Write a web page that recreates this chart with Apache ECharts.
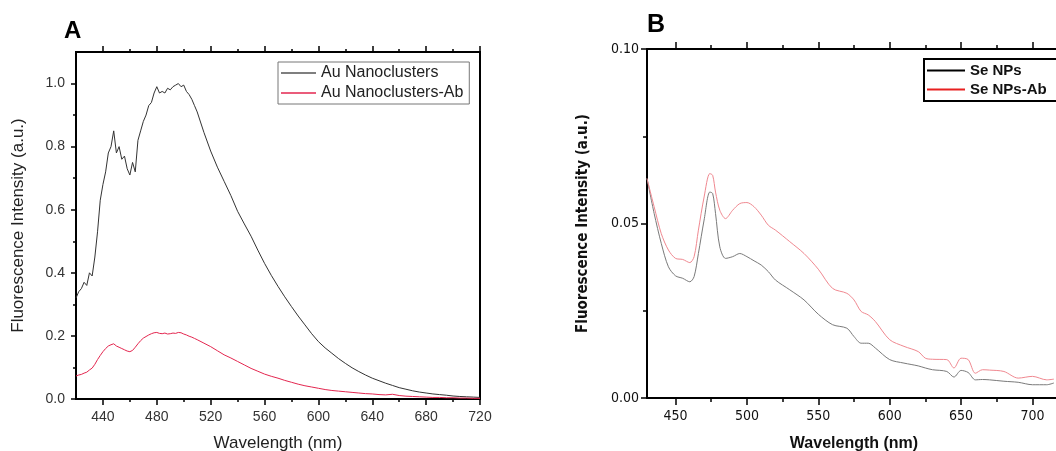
<!DOCTYPE html>
<html><head><meta charset="utf-8">
<script src="https://cdn.jsdelivr.net/npm/echarts@6/dist/echarts.min.js"></script>
<style>html,body{margin:0;padding:0;background:#fff}#c{width:1056px;height:451px}</style>
</head><body><div id="c"></div>
<script>
// ---- Panel A data (Au nanoclusters) ----
const auWavelength = [420,422,424,426,428,430,432,434,436,438,440,442,444,446,448,450,452,454,456,458,460,462,464,466,468,470,472,474,476,478,480,482,484,486,488,490,492,494,496,498,500,502,504,506,508,510,
515,520,525,530,535,540,545,550,555,560,565,570,575,580,585,590,595,600,605,610,615,620,625,630,635,640,645,650,655,660,665,670,675,680,685,690,695,700,705,710,715,720];
const auNanoclusters = [0.32,0.34,0.35,0.37,0.36,0.40,0.39,0.45,0.53,0.63,0.68,0.72,0.78,0.80,0.85,0.78,0.80,0.76,0.77,0.73,0.71,0.75,0.72,0.82,0.85,0.88,0.90,0.93,0.94,0.97,0.99,0.97,0.975,0.97,0.985,0.98,0.99,0.995,1.0,0.99,0.995,0.975,0.965,0.95,0.93,0.91,
0.845,0.786,0.735,0.69,0.645,0.595,0.555,0.516,0.472,0.43,0.392,0.357,0.324,0.293,0.263,0.235,0.207,0.182,0.162,0.145,0.128,0.113,0.099,0.087,0.076,0.066,0.058,0.05,0.043,0.036,0.031,0.026,0.022,0.019,0.016,0.014,0.012,0.0095,0.008,0.007,0.006,0.005];
const auNanoclustersAb = [0.073,0.076,0.078,0.082,0.085,0.092,0.098,0.110,0.125,0.138,0.150,0.160,0.168,0.172,0.175,0.168,0.164,0.160,0.156,0.152,0.150,0.154,0.164,0.175,0.185,0.193,0.198,0.203,0.207,0.210,0.211,0.208,0.207,0.209,0.206,0.207,0.209,0.208,0.211,0.210,0.206,0.203,0.199,0.196,0.192,0.188,
0.177,0.166,0.153,0.140,0.130,0.119,0.108,0.097,0.088,0.079,0.072,0.066,0.059,0.053,0.047,0.042,0.038,0.034,0.030,0.027,0.025,0.023,0.021,0.019,0.017,0.016,0.014,0.013,0.015,0.011,0.009,0.008,0.007,0.006,0.005,0.005,0.004,0.004,0.003,0.003,0.002,0.002];
const aXTicks = [440,480,520,560,600,640,680,720];
const aXMinor = [460,500,540,580,620,660,700];
const aYTicks = [0,0.2,0.4,0.6,0.8,1.0];
const aYMinor = [0.1,0.3,0.5,0.7,0.9];

// ---- Panel B data (Se NPs) ----
const seWavelength = [430,435,440,445,450,455,460,463,466,470,474,476,478,481,485,490,495,500,505,510,515,520,530,540,550,560,570,575,580,585,590,600,610,620,625,630,640,645,650,655,660,665,670,680,690,700,710,715];
const seNPs = [0.0629,0.0529,0.0443,0.0376,0.035,0.0343,0.0333,0.0348,0.0414,0.051,0.059,0.0586,0.0529,0.0433,0.040,0.0405,0.0414,0.0405,0.0393,0.0381,0.0362,0.0338,0.031,0.0281,0.0240,0.021,0.020,0.0176,0.0157,0.0157,0.0143,0.011,0.010,0.0092,0.0086,0.0081,0.0076,0.006,0.0079,0.0073,0.0052,0.0053,0.0052,0.0048,0.0045,0.0038,0.0038,0.0043];
const seNPsAb = [0.0629,0.0548,0.0471,0.0424,0.040,0.0397,0.0388,0.0405,0.0481,0.0576,0.0643,0.0638,0.059,0.0538,0.0514,0.0538,0.0557,0.056,0.0548,0.0524,0.0495,0.0481,0.0448,0.0414,0.0369,0.0314,0.030,0.0281,0.0248,0.0238,0.0219,0.0167,0.0148,0.0133,0.0114,0.0111,0.011,0.0086,0.0114,0.011,0.0071,0.0081,0.0080,0.0076,0.0057,0.0062,0.0052,0.0054];
const bXTicks = [450,500,550,600,650,700];
const bXMinor = [475,525,575,625,675];
const bYTicks = [0,0.05,0.10];
const bYMinor = [0.025,0.075];

const zip = (xs, ys) => xs.map((x, i) => [x, ys[i]]);
const fA = 'Liberation Sans, Arial, sans-serif';
const fB = 'Liberation Sans Narrow, DejaVu Sans Condensed, Liberation Sans, sans-serif';

function xAx(grid, pos, min, max, ticks, len, opts) {
  opts = opts || {};
  return {
    type: 'value', gridIndex: grid, position: pos, min: min, max: max,
    axisLine: { show: !!opts.line, onZero: false, lineStyle: { color: '#000', width: 2 } },
    axisTick: { show: true, inside: false, length: len, customValues: ticks, lineStyle: { color: '#000', width: 1.5 } },
    axisLabel: opts.label ? Object.assign({ customValues: ticks }, opts.label) : { show: false },
    splitLine: { show: false },
    name: opts.name || '', nameLocation: 'middle', nameGap: opts.nameGap || 0, nameTextStyle: opts.nameStyle || {}
  };
}
const yAx = xAx;

const option = {
  backgroundColor: '#fff',
  animation: false,
  title: [
    { text: 'A', left: 64, top: 19, padding: 0, textStyle: { fontSize: 24, fontWeight: 'bold', fontFamily: fA, color: '#000' } },
    { text: 'B', left: 647, top: 13, padding: 0, textStyle: { fontSize: 25, fontWeight: 'bold', fontFamily: fA, color: '#000' } }
  ],
  grid: [
    { left: 76, top: 52, width: 404, height: 347, show: true, borderColor: '#000', borderWidth: 2, backgroundColor: 'transparent', containLabel: false, outerBoundsMode: 'none' },
    { left: 647, top: 49, width: 414, height: 349, show: false, containLabel: false, outerBoundsMode: 'none' }
  ],
  legend: [
    { data: ['Au Nanoclusters', 'Au Nanoclusters-Ab'], orient: 'vertical', left: 278, top: 62, padding: [3, 6, 3, 3],
      itemWidth: 35, itemHeight: 1.5, itemGap: 4, icon: 'rect', borderColor: '#777', borderWidth: 1,
      textStyle: { fontSize: 16, fontFamily: fA, color: '#222' } },
    { data: [{ name: 'Se NPs', itemStyle: { color: '#000' } }, { name: 'Se NPs-Ab', itemStyle: { color: '#e82020' } }],
      orient: 'vertical', left: 924, top: 59, padding: [4, 30, 4, 3],
      itemWidth: 38, itemHeight: 2, itemGap: 4, icon: 'rect', borderColor: '#000', borderWidth: 2,
      textStyle: { fontSize: 15, fontWeight: 'bold', fontFamily: fA, color: '#111' } }
  ],
  xAxis: [
    xAx(0, 'bottom', 420, 720, aXTicks, 6, { line: true,
      label: { fontSize: 14, fontFamily: fA, color: '#333', margin: 11 },
      name: 'Wavelength (nm)', nameGap: 36, nameStyle: { fontSize: 17, fontFamily: fA, color: '#222' } }),
    xAx(0, 'bottom', 420, 720, aXMinor, 3),
    xAx(0, 'top', 420, 720, aXTicks, 6, { line: true }),
    xAx(0, 'top', 420, 720, aXMinor, 3),
    xAx(1, 'bottom', 430, 720, bXTicks, 7, { line: true,
      label: { fontSize: 14, fontFamily: fB, color: '#111', margin: 11 },
      name: 'Wavelength (nm)', nameGap: 38, nameStyle: { fontSize: 16, fontWeight: 'bold', fontFamily: fA, color: '#111' } }),
    xAx(1, 'bottom', 430, 720, bXMinor, 4),
    xAx(1, 'top', 430, 720, bXTicks, 7, { line: true }),
    xAx(1, 'top', 430, 720, bXMinor, 4)
  ],
  yAxis: [
    yAx(0, 'left', 0, 1.1, aYTicks, 5, { line: true,
      label: { fontSize: 14, fontFamily: fA, color: '#333', margin: 11, formatter: v => v.toFixed(1) },
      name: 'Fluorescence Intensity (a.u.)', nameGap: 49, nameStyle: { fontSize: 17, fontFamily: fA, color: '#222' } }),
    yAx(0, 'left', 0, 1.1, aYMinor, 3),
    yAx(1, 'left', 0, 0.1, bYTicks, 6, { line: true,
      label: { fontSize: 14, fontFamily: fB, color: '#111', margin: 8, formatter: v => v.toFixed(2) },
      name: 'Fluorescence Intensity (a.u.)', nameGap: 56, nameStyle: { fontSize: 15, fontWeight: 'bold', fontFamily: fB, color: '#111' } }),
    yAx(1, 'left', 0, 0.1, bYMinor, 4)
  ],
  series: [
    { name: 'Au Nanoclusters', type: 'line', xAxisIndex: 0, yAxisIndex: 0, symbol: 'none',
      data: zip(auWavelength, auNanoclusters), lineStyle: { color: '#333', width: 1 }, itemStyle: { color: '#555' } },
    { name: 'Au Nanoclusters-Ab', type: 'line', xAxisIndex: 0, yAxisIndex: 0, symbol: 'none',
      data: zip(auWavelength, auNanoclustersAb), lineStyle: { color: '#e3264f', width: 1 }, itemStyle: { color: '#e3264f' } },
    { name: 'Se NPs', type: 'line', xAxisIndex: 4, yAxisIndex: 2, symbol: 'none', smooth: 0.3,
      data: zip(seWavelength, seNPs), lineStyle: { color: '#7a7a7a', width: 1 }, itemStyle: { color: '#000' } },
    { name: 'Se NPs-Ab', type: 'line', xAxisIndex: 4, yAxisIndex: 2, symbol: 'none', smooth: 0.3,
      data: zip(seWavelength, seNPsAb), lineStyle: { color: '#f08890', width: 1 }, itemStyle: { color: '#e82020' } }
  ]
};
const chart = echarts.init(document.getElementById('c'), null, { renderer: 'canvas' });
chart.setOption(option);
</script></body></html>
